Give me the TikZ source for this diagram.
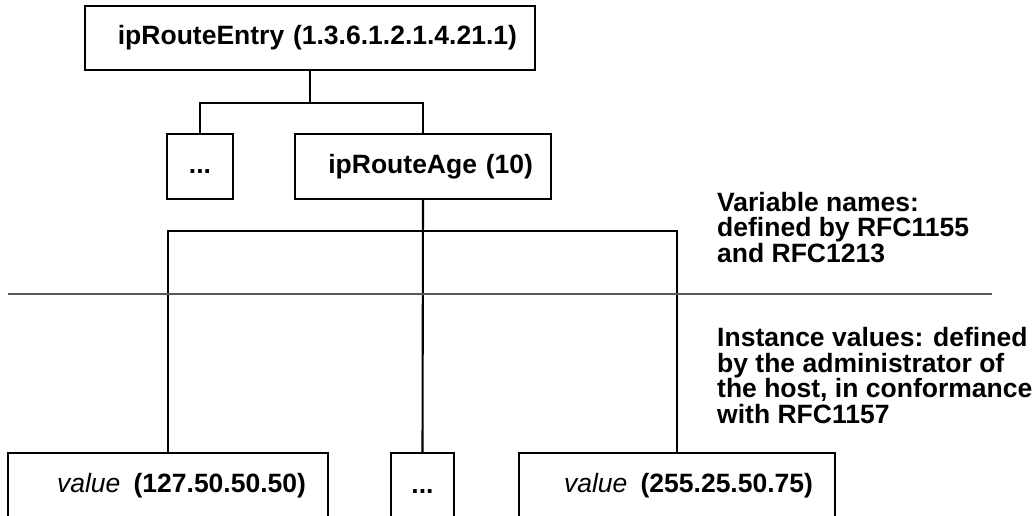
\documentclass[tikz,border=0pt]{standalone}
\usepackage{fontspec}
\setmainfont{Liberation Sans}
\usetikzlibrary{positioning}

\begin{document}
\begin{tikzpicture}[
  x=1pt, y=-1pt,
  box/.style={draw, line width=2.1pt, font=\fontsize{26.5}{25.5}\selectfont\bfseries,
    minimum height=64pt, inner xsep=18pt, align=right},
  valbox/.style={box, inner xsep=22pt, minimum height=66pt},
  dotbox/.style={draw, line width=2.1pt, font=\fontsize{26.5}{25.5}\selectfont\bfseries,
    inner sep=0pt, align=center, text height=19pt, text depth=5pt},
  link/.style={line width=2.1pt},
  split/.style={line width=1.3pt, black!65},
  note/.style={font=\fontsize{26.5}{25.5}\selectfont\bfseries, align=left,
    inner sep=0pt, anchor=base west}
]
\useasboundingbox (0,0) rectangle (1035,516);
\clip (0,0) rectangle (1035,516);

% Variable names (upper tree)
\node[box, text width=414pt] (entry) at (310,38) {ipRouteEntry (1.3.6.1.2.1.4.21.1)};
\node[dotbox, minimum width=66pt, minimum height=65pt] (dotsA) at (200,166.5) {{.}{.}{.}};
\node[box, text width=220pt, minimum height=65pt] (age) at (423,166.5) {ipRouteAge (10)};

% Instance values (lower row)
\node[valbox, text width=276pt] (valA) at (168,486) {\textmd{\textit{value}}\enspace(127.50.50.50)};
\node[dotbox, minimum width=63pt, minimum height=66pt] (dotsB) at (422.5,486) {{.}{.}{.}};
\node[valbox, text width=272pt] (valB) at (677,486) {\textmd{\textit{value}}\enspace(255.25.50.75)};

% Forks
\coordinate (forkA) at (310,103);
\coordinate (forkB) at (423,231);

\draw[link] (entry.south) -- (forkA);
\draw[link] (dotsA.north) |- (forkA) -| (age.north);
\draw[link] (age.south) -- (dotsB.north);
\draw[link] (valA.north) |- (forkB) -| (valB.north);

% Dividing line
\coordinate (splitL) at (8,294);
\coordinate (splitR) at (992,294);
\draw[split] (splitL) -- (splitR);

% Notes (base = last line)
\node[note] (noteVar) at (717,262) {Variable names:\\defined by RFC1155\\and RFC1213};
\node[note] (noteInst) at (717,423) {Instance values: defined\\by the administrator of\\the host, in conformance\\with RFC1157};
\end{tikzpicture}
\end{document}
